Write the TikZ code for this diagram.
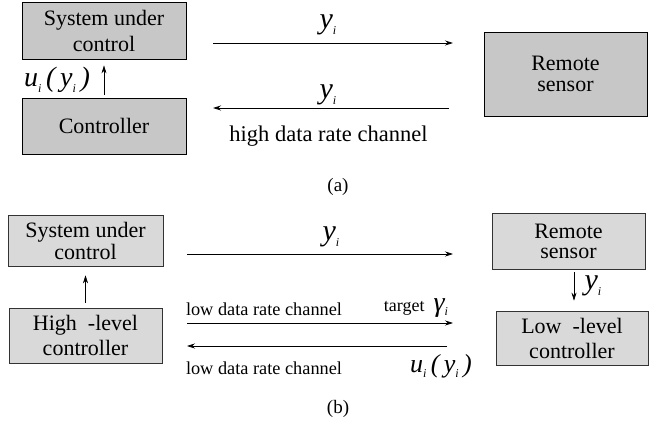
\documentclass[tikz,border=0pt]{standalone}
\usepackage{fontspec}
\setmainfont{Liberation Serif}
\usetikzlibrary{arrows.meta}
\newcommand\mysub[1]{\raisebox{-0.45ex}{\fontsize{12}{12}\selectfont\itshape #1}}
\newcommand\fsz[2]{\fontsize{#1}{#2}\selectfont}
\begin{document}
\begin{tikzpicture}[x=1pt,y=-1pt,
  boxa/.style={draw=black, line width=0.8pt, fill=black!22, minimum width=164pt, align=center, inner sep=0pt, font=\fsz{22}{26}},
  boxb/.style={draw=black!80, line width=0.6pt, fill=black!15, align=center, inner sep=0pt, font=\fsz{22}{22}},
  arr/.style={line width=0.8pt, -{Stealth[length=8pt,width=5pt]}},
  lbl/.style={inner sep=0pt},
  mathl/.style={inner sep=0pt, font=\fsz{30}{30}\itshape},
  chan/.style={inner sep=0pt, font=\fsz{18.3}{18}}
]
\useasboundingbox (0,0) rectangle (649,422);
% ---------- (a)
\node[boxa, minimum height=57pt] (sysA) at (104,30.5) {System under\\control};
\node[boxa, minimum height=56pt] (ctrlA) at (104,126) {Controller};
\node[boxa, minimum width=163pt, minimum height=84pt, font=\fsz{22}{21}] (remA) at (565.5,74) {Remote\\sensor};
\draw[arr, shorten <=3pt, shorten >=6pt] (ctrlA.north) -- (sysA.south);
\node[mathl, font=\fsz{28}{28}\itshape] (uA) at (57,80) {u\mysub{i}\,(\,y\mysub{i}\,)};
\coordinate (a1s) at (213,43);
\coordinate (a1e) at (453,43);
\draw[arr] (a1s) -- (a1e);
\node[mathl] (yA1) at (328,25) {y\mysub{i}};
\coordinate (a2s) at (449,108);
\coordinate (a2e) at (213,108);
\draw[arr] (a2s) -- (a2e);
\node[mathl] (yA2) at (328,95) {y\mysub{i}};
\node[lbl, font=\fsz{22.5}{22}] (hdr) at (328.5,136) {high data rate channel};
\node[lbl, font=\fsz{19}{19}] (capa) at (338,187) {(a)};
% ---------- (b)
\node[boxb, minimum width=155pt, minimum height=51pt] (sysB) at (85.5,240.5) {System under\\control};
\node[boxb, minimum width=153pt, minimum height=55pt, font=\fsz{22}{25}] (hlcB) at (85.5,335.5) {High\ \ -level\\controller};
\draw[arr, line width=0.6pt, shorten <=5pt, shorten >=9pt] (hlcB.north) -- (sysB.south);
\coordinate (b1s) at (187,254);
\coordinate (b1e) at (453,254);
\draw[arr, line width=0.6pt] (b1s) -- (b1e);
\node[mathl] (yB1) at (331,237) {y\mysub{i}};
\node[chan] (ldr1) at (264,309) {low data rate channel};
\node[lbl] (tgt) at (416,308) {\fsz{18}{18}target\ \ {\fsz{28}{28}\itshape γ}\mysub{i}};
\coordinate (b2s) at (187,323);
\coordinate (b2e) at (453,323);
\draw[arr, line width=0.6pt] (b2s) -- (b2e);
\coordinate (b3s) at (447,346);
\coordinate (b3e) at (187,346);
\draw[arr, line width=0.6pt] (b3s) -- (b3e);
\node[chan] (ldr2) at (264,368) {low data rate channel};
\node[mathl, font=\fsz{26}{26}\itshape] (uB) at (441,366) {u\mysub{i}\,(\,y\mysub{i}\,)};
\node[boxb, minimum width=153pt, minimum height=56pt, font=\fsz{22}{20}] (remB) at (568.5,241) {Remote\\sensor};
\node[boxb, minimum width=152pt, minimum height=54pt, font=\fsz{22}{25}] (llcB) at (572,338) {Low\ \ -level\\controller};
\draw[arr, line width=0.6pt, shorten <=3pt, shorten >=10pt] ([xshift=5.5pt]remB.south) -- ([xshift=2pt]llcB.north);
\node[mathl] (yB2) at (593,286) {y\mysub{i}};
\node[lbl, font=\fsz{19}{19}] (capb) at (338,409) {(b)};
\end{tikzpicture}
\end{document}
